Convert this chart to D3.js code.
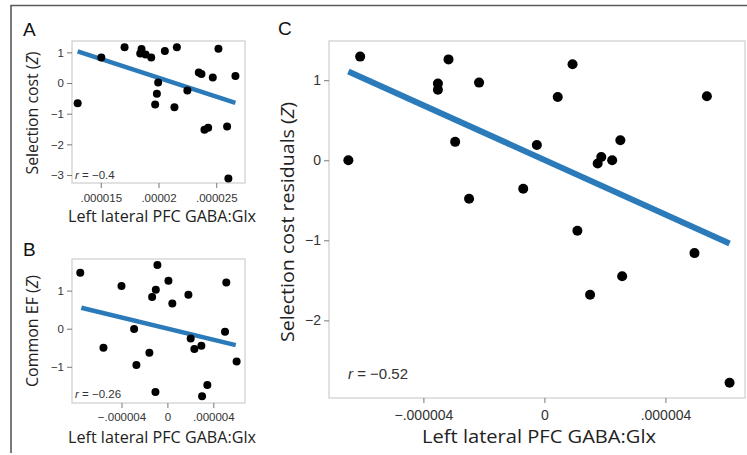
<!DOCTYPE html>
<html>
<head>
<meta charset="utf-8">
<script src="https://cdn.jsdelivr.net/npm/d3@7"></script>
<style>
  body { margin: 0; background: #fff; }
  svg { display: block; }
  .tick-label { font-family: "Liberation Sans", Arial, sans-serif; fill: #333; }
  .axis-title { font-family: "Open Sans", "DejaVu Sans", sans-serif; fill: #222; }
  .panel-letter { font-family: "Liberation Sans", Arial, sans-serif; fill: #111; }
</style>
</head>
<body>
<svg id="chart" width="747" height="455"></svg>
<script>
// ---- data (GABA:Glx ratios, z-scores) ----
const aX = [13.0e-6, 15.05e-6, 17.06e-6, 18.53e-6, 18.42e-6, 18.88e-6, 19.37e-6, 19.71e-6, 19.86e-6, 19.97e-6, 20.55e-6, 21.38e-6,
            21.59e-6, 22.5e-6, 23.49e-6, 23.72e-6, 23.98e-6, 24.3e-6, 24.7e-6, 25.19e-6, 25.94e-6, 26.05e-6, 26.66e-6];
const aY = [-0.66, 0.83, 1.17, 1.11, 0.96, 0.93, 0.83, -0.70, -0.35, 0.02, 1.04, -0.79,
            1.17, -0.24, 0.34, 0.29, -1.52, -1.46, 0.18, 1.12, -1.42, -3.11, 0.23];
const aFit = [[13.0e-6, 1.03], [26.66e-6, -0.65]];
const aXTicks = [15e-6, 20e-6, 25e-6];
const aXTickLabels = [".000015", ".00002", ".000025"];
const aYTicks = [1, 0, -1, -2, -3];
const aYTickLabels = ["1", "0", "\u22121", "\u22122", "\u22123"];

const bX = [-7.59e-6, -5.57e-6, -4.0e-6, -2.90e-6, -2.70e-6, -1.57e-6, -1.33e-6, -1.04e-6, -1.01e-6, -0.87e-6, 0.09e-6,
            0.43e-6, 1.83e-6, 2.03e-6, 2.35e-6, 2.96e-6, 3.02e-6, 3.48e-6, 5.02e-6, 5.13e-6, 6.03e-6];
const bY = [1.47, -0.50, 1.12, -0.01, -0.95, -0.63, 0.83, -1.66, 1.02, 1.67, 1.26,
            0.66, 0.89, -0.26, -0.53, -0.45, -1.77, -1.48, -0.08, 1.21, -0.86];
const bFit = [[-7.5e-6, 0.55], [5.95e-6, -0.43]];
const bXTicks = [-4e-6, 0, 4e-6];
const bXTickLabels = ["\u2212.000004", "0", ".000004"];
const bYTicks = [1, 0, -1];
const bYTickLabels = ["1", "0", "\u22121"];

const cX = [-6.48e-6, -6.09e-6, -3.17e-6, -3.52e-6, -3.52e-6, -2.16e-6, -2.95e-6, -2.49e-6, -0.70e-6, -0.25e-6, 0.44e-6,
            0.93e-6, 1.76e-6, 1.88e-6, 2.24e-6, 2.51e-6, 5.37e-6, 1.09e-6, 1.51e-6, 2.57e-6, 4.96e-6, 6.12e-6];
const cY = [0.0, 1.295, 1.26, 0.96, 0.88, 0.97, 0.23, -0.48, -0.355, 0.19, 0.79,
            1.20, -0.04, 0.04, 0.0, 0.25, 0.80, -0.88, -1.68, -1.45, -1.16, -2.78];
const cFit = [[-6.48e-6, 1.11], [6.12e-6, -1.04]];
const cXTicks = [-4e-6, 0, 4e-6];
const cXTickLabels = ["\u2212.000004", "0", ".000004"];
const cYTicks = [1, 0, -1, -2];
const cYTickLabels = ["1", "0", "\u22121", "\u22122"];

const xTitle = "Left lateral PFC GABA:Glx";

const svg = d3.select("#chart");

// outer frame (only top and left edges show in the original)
svg.append("path")
    .attr("d", "M10.5,5.5 H747 M11,5 V453")
    .attr("stroke", "#5a5a5a")
    .attr("stroke-width", 1.6)
    .attr("fill", "none");

function drawPanel(p) {
    const x = d3.scaleLinear().domain(p.xDomain).range([p.left, p.right]);
    const y = d3.scaleLinear().domain(p.yDomain).range([p.bottom, p.top]);
    const g = svg.append("g");

    // plot frame
    g.append("rect")
        .attr("x", p.left).attr("y", p.top)
        .attr("width", p.right - p.left).attr("height", p.bottom - p.top)
        .attr("fill", "none").attr("stroke", "#c4c4c4").attr("stroke-width", 1);

    const yAxis = g.append("g")
        .attr("transform", `translate(${p.left},0)`)
        .call(d3.axisLeft(y).tickValues(p.yTicks).tickSize(5).tickPadding(3)
            .tickFormat((d, i) => p.yTickLabels[i]));
    yAxis.select(".domain").remove();

    const xAxis = g.append("g")
        .attr("transform", `translate(0,${p.bottom})`)
        .call(d3.axisBottom(x).tickValues(p.xTicks).tickSize(5).tickPadding(p.xPad)
            .tickFormat((d, i) => p.xTickLabels[i]));
    xAxis.select(".domain").remove();

    [xAxis, yAxis].forEach(ax => {
        ax.selectAll(".tick line").attr("stroke", "#777");
        ax.selectAll(".tick text")
            .attr("class", "tick-label")
            .attr("fill", "#333")
            .style("font-size", p.tickSize + "px");
    });

    // regression line
    g.append("line")
        .attr("x1", x(p.fit[0][0])).attr("y1", y(p.fit[0][1]))
        .attr("x2", x(p.fit[1][0])).attr("y2", y(p.fit[1][1]))
        .attr("stroke", "#2b7bba")
        .attr("stroke-width", p.lineWidth);

    // points
    g.selectAll("circle")
        .data(p.xs.map((v, i) => [v, p.ys[i]]))
        .enter().append("circle")
        .attr("cx", d => x(d[0]))
        .attr("cy", d => y(d[1]))
        .attr("r", p.r)
        .attr("fill", "#000");

    // r annotation
    const rt = g.append("text")
        .attr("class", "tick-label")
        .attr("x", p.left + p.rDx).attr("y", p.bottom - p.rDy)
        .style("font-size", p.rSize + "px")
        .attr("fill", "#222");
    rt.append("tspan").style("font-style", "italic").text("r");
    rt.append("tspan").text(" = \u2212" + p.r_value);

    // axis titles, fitted to the widths measured on the original
    g.append("text")
        .attr("class", "axis-title")
        .attr("text-anchor", "middle")
        .attr("x", p.xTitleX).attr("y", p.xTitleY)
        .style("font-size", p.titleSize + "px")
        .attr("textLength", p.xTitleLen)
        .attr("lengthAdjust", "spacingAndGlyphs")
        .text(xTitle);

    const yt = g.append("text")
        .attr("class", "axis-title")
        .attr("text-anchor", "middle")
        .attr("transform", `translate(${p.yTitleX},${p.yTitleY}) rotate(-90)`)
        .style("font-size", p.yTitleSize + "px")
        .attr("textLength", p.yTitleLen)
        .attr("lengthAdjust", "spacingAndGlyphs");
    yt.append("tspan").text(p.yTitle + " (");
    yt.append("tspan").style("font-style", "italic").text("Z");
    yt.append("tspan").text(")");

    // panel letter
    g.append("text")
        .attr("class", "panel-letter")
        .attr("x", p.letterX).attr("y", p.letterY)
        .style("font-size", "19px")
        .text(p.letter);
}

drawPanel({
    letter: "A", letterX: 23, letterY: 36,
    left: 72, right: 245, top: 41, bottom: 183,
    xDomain: [12.51e-6, 27.49e-6], yDomain: [-3.26, 1.37],
    xs: aX, ys: aY, fit: aFit,
    xTicks: aXTicks, xTickLabels: aXTickLabels, yTicks: aYTicks, yTickLabels: aYTickLabels,
    tickSize: 11.5, xPad: 6, r: 4, lineWidth: 4.5,
    rDx: 3, rDy: 4, rSize: 11.5, r_value: "0.4",
    titleSize: 17, xTitleX: 162, xTitleY: 222, xTitleLen: 188,
    yTitle: "Selection cost", yTitleSize: 16, yTitleX: 38, yTitleY: 113, yTitleLen: 123
});

drawPanel({
    letter: "B", letterX: 23, letterY: 256,
    left: 72, right: 245, top: 259, bottom: 403,
    xDomain: [-8.31e-6, 6.76e-6], yDomain: [-1.95, 1.83],
    xs: bX, ys: bY, fit: bFit,
    xTicks: bXTicks, xTickLabels: bXTickLabels, yTicks: bYTicks, yTickLabels: bYTickLabels,
    tickSize: 11.5, xPad: 5, r: 4, lineWidth: 4.5,
    rDx: 3, rDy: 5, rSize: 11.5, r_value: "0.26",
    titleSize: 17, xTitleX: 162, xTitleY: 443, xTitleLen: 188,
    yTitle: "Common EF", yTitleSize: 16, yTitleX: 38, yTitleY: 331, yTitleLen: 112
});

drawPanel({
    letter: "C", letterX: 278, letterY: 35,
    left: 329, right: 745, top: 41, bottom: 398,
    xDomain: [-7.12e-6, 6.63e-6], yDomain: [-2.97, 1.49],
    xs: cX, ys: cY, fit: cFit,
    xTicks: cXTicks, xTickLabels: cXTickLabels, yTicks: cYTicks, yTickLabels: cYTickLabels,
    tickSize: 14, xPad: 7, r: 5, lineWidth: 6,
    rDx: 19, rDy: 19, rSize: 15, r_value: "0.52",
    titleSize: 19, xTitleX: 539, xTitleY: 443, xTitleLen: 234,
    yTitle: "Selection cost residuals", yTitleSize: 19, yTitleX: 294, yTitleY: 222, yTitleLen: 240
});
</script>
</body>
</html>
